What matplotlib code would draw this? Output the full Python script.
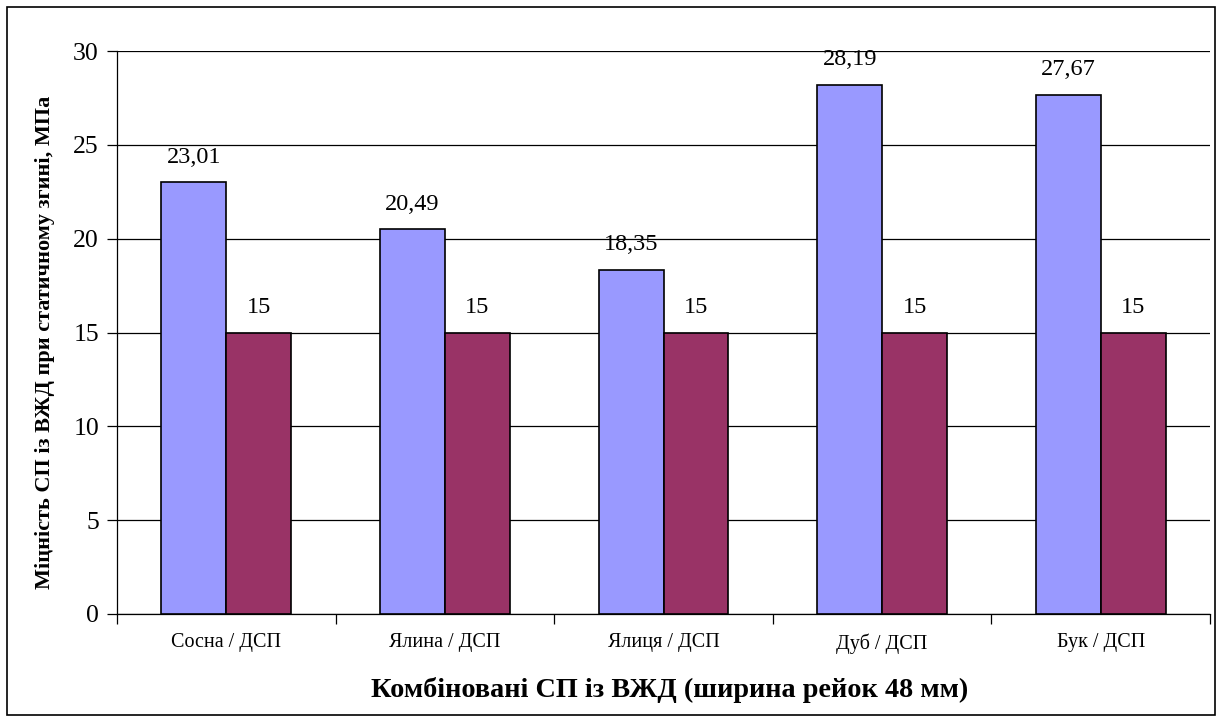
import matplotlib
matplotlib.use("Agg")
import matplotlib.pyplot as plt
import numpy as np
from matplotlib.patches import Rectangle

plt.rcParams['font.family'] = ['Liberation Serif', 'DejaVu Serif']

categories = ["Сосна / ДСП", "Ялина / ДСП", "Ялиця / ДСП", "Дуб / ДСП", "Бук / ДСП"]
combined_strength = [23.01, 20.49, 18.35, 28.19, 27.67]
particleboard_strength = [15, 15, 15, 15, 15]
y_ticks = [0, 5, 10, 15, 20, 25, 30]

W, H = 1222, 722
fig = plt.figure(figsize=(W / 100, H / 100), dpi=100)
fig.patches.append(Rectangle((7 / W, 7 / H), (1215 - 7) / W, (715 - 7) / H,
                             transform=fig.transFigure, fill=False,
                             edgecolor='black', linewidth=1.2))

ax = fig.add_axes([117 / W, 1 - 614 / H, (1210 - 117) / W, (614 - 51) / H])

x = np.arange(len(categories))
bw = 0.297
b1 = ax.bar(x - bw / 2, combined_strength, bw, color='#9999FF',
            edgecolor='black', linewidth=1.2, zorder=3)
b2 = ax.bar(x + bw / 2, particleboard_strength, bw, color='#993366',
            edgecolor='black', linewidth=1.2, zorder=3)

def fmt(v):
    s = f"{v:.2f}".replace('.', ',')
    if s.endswith(',00'):
        s = s[:-3]
    return s

for bars, vals in ((b1, combined_strength), (b2, particleboard_strength)):
    for rect, v in zip(bars, vals):
        ax.annotate(fmt(v), (rect.get_x() + rect.get_width() / 2, v),
                    xytext=(0, 10.5), textcoords='offset points',
                    ha='center', va='bottom', fontsize=17.5)

ax.set_xlim(-0.5, len(categories) - 0.5)
ax.set_ylim(0, 30)
ax.set_yticks(y_ticks)
ax.set_yticklabels([str(t) for t in y_ticks], fontsize=18.5)
ax.yaxis.grid(True, color='black', linewidth=0.9, zorder=0)
ax.set_axisbelow(True)

ax.set_xticks(np.arange(len(categories) + 1) - 0.5)
ax.set_xticklabels([])
ax.set_xticks(x, minor=True)
ax.set_xticklabels(categories, minor=True, fontsize=14.5)
ax.tick_params(axis='x', which='minor', length=0, pad=14)
ax.tick_params(axis='x', which='major', length=7, width=0.9, direction='out')
ax.tick_params(axis='y', length=7, width=0.9, direction='out', pad=6)

for side in ('top', 'right'):
    ax.spines[side].set_visible(False)
for side in ('left', 'bottom'):
    ax.spines[side].set_linewidth(0.9)

fig.text(670 / W, 1 - 690 / H, "Комбіновані СП із ВЖД (ширина рейок 48 мм)",
         ha='center', va='center', fontsize=20.3, fontweight='bold')
fig.text(45 / W, 1 - 342 / H, "Міцність СП із ВЖД при статичному згині, МПа",
         ha='center', va='center', rotation=90, fontsize=16, fontweight='bold')

fig.savefig("out.png", dpi=100)
